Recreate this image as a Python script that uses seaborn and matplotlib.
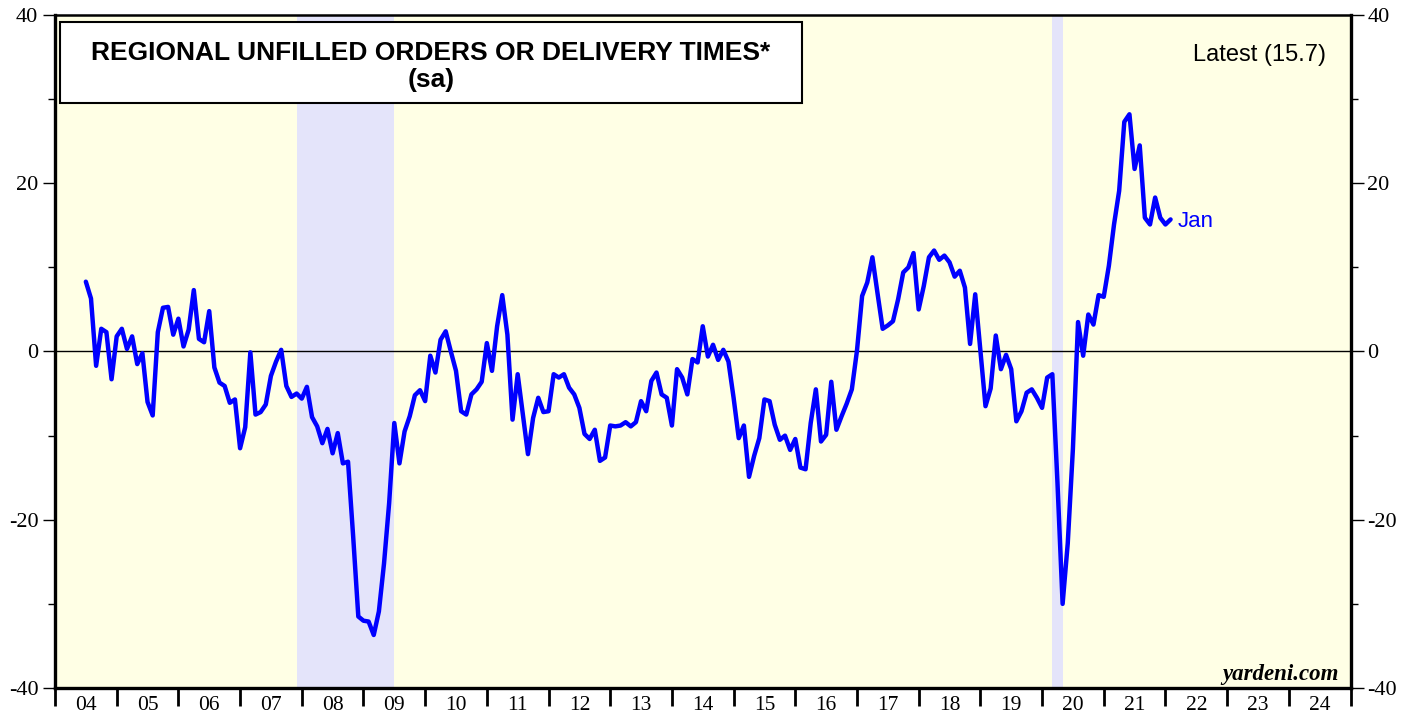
import numpy as np
import pandas as pd
import seaborn as sns
import matplotlib
matplotlib.use("Agg")
import matplotlib.pyplot as plt
from matplotlib.patches import Rectangle
from matplotlib.ticker import MultipleLocator, FixedLocator, NullFormatter

# monthly readings, Jun 2004 .. Jan 2022
vals_2004_2009 = [8.3, 6.3, -1.7, 2.7, 2.3, -3.3, 1.8, 2.7, 0.3, 1.8, -1.5, -0.2,
                  -6.0, -7.6, 2.3, 5.2, 5.3, 2.0, 3.9, 0.6, 2.6, 7.3, 1.5, 1.1,
                  4.8, -1.9, -3.7, -4.1, -6.1, -5.7, -11.5, -9.0, -0.1, -7.5, -7.2, -6.3,
                  -2.9, -1.2, 0.2, -4.1, -5.4, -5.0, -5.6, -4.2, -7.8, -8.9, -10.9, -9.2,
                  -12.1, -9.7, -13.3, -13.1, -22.0, -31.5, -32.0, -32.1, -33.7, -30.9, -25.2, -18.0,
                  -8.5, -13.3, -9.5, -7.7, -5.2, -4.6, -5.9]
vals_2010_2015 = [-0.5, -2.5, 1.4, 2.4, 0.0, -2.3, -7.1, -7.5, -5.1, -4.5, -3.6, 1.0,
                  -2.3, 3.0, 6.7, 2.0, -8.1, -2.7, -7.5, -12.2, -7.9, -5.5, -7.2, -7.1,
                  -2.7, -3.1, -2.7, -4.3, -5.1, -6.7, -9.8, -10.4, -9.3, -13.0, -12.6, -8.8,
                  -8.9, -8.8, -8.4, -8.9, -8.4, -5.9, -7.1, -3.5, -2.5, -5.1, -5.5, -8.8,
                  -2.1, -3.1, -5.1, -0.9, -1.3, 3.0, -0.6, 0.8, -1.0, 0.2, -1.2, -5.5,
                  -10.3, -8.8, -14.9, -12.4, -10.3, -5.7, -5.9, -8.7, -10.5, -10.0, -11.7, -10.4]
vals_2016_2022 = [-13.8, -14.0, -8.5, -4.5, -10.7, -9.9, -3.6, -9.3, -7.7, -6.2, -4.5, 0.1,
                  6.6, 8.2, 11.2, 6.9, 2.7, 3.1, 3.6, 6.2, 9.4, 10.0, 11.7, 5.0,
                  7.8, 11.2, 12.0, 10.9, 11.4, 10.6, 8.9, 9.6, 7.6, 0.9, 6.8, 0.2,
                  -6.5, -4.4, 1.9, -2.1, -0.4, -2.1, -8.3, -7.1, -4.9, -4.5, -5.5, -6.7,
                  -3.1, -2.7, -15.6, -30.0, -22.8, -11.6, 3.5, -0.5, 4.4, 3.2, 6.7, 6.5,
                  10.2, 15.1, 19.1, 27.3, 28.2, 21.7, 24.5, 15.9, 15.1, 18.3, 15.9, 15.1, 15.7]

recessions = [(2007.917, 2009.5), (2020.167, 2020.333)]
year_labels = ["04", "05", "06", "07", "08", "09", "10", "11", "12", "13", "14",
               "15", "16", "17", "18", "19", "20", "21", "22", "23", "24"]

vals = vals_2004_2009 + vals_2010_2015 + vals_2016_2022
dates = pd.date_range("2004-06-30", periods=len(vals), freq="ME")
df = pd.DataFrame({"t": dates.year + dates.month / 12.0, "v": vals})

sns.set_style("ticks")
plt.rcParams["font.family"] = ["Liberation Serif", "DejaVu Serif"]
plt.rcParams["axes.unicode_minus"] = False
plt.rcParams["text.color"] = "black"
plt.rcParams["xtick.color"] = "black"
plt.rcParams["ytick.color"] = "black"
plt.rcParams["axes.edgecolor"] = "black"

sans = ["Liberation Sans", "DejaVu Sans"]

fig = plt.figure(figsize=(14.16, 7.19), dpi=100)
ax = fig.add_axes([55 / 1416, 1 - 688 / 719, 1295.5 / 1416, 673 / 719])
ax.set_facecolor("#FFFFE5")

for a, b in recessions:
    ax.axvspan(a, b, color="#E4E4FA", lw=0, zorder=0)
ax.axhline(0, color="black", lw=1.0, zorder=1)

sns.lineplot(data=df, x="t", y="v", color="#0000FF", lw=3.2, ax=ax, zorder=3)

ax.set_xlim(2004, 2025)
ax.set_ylim(-40, 40)
ax.set_xlabel("")
ax.set_ylabel("")

# x: year boundary ticks, labels in the middle of each year
ax.xaxis.set_major_locator(FixedLocator(np.arange(2004, 2026)))
ax.xaxis.set_major_formatter(NullFormatter())
ax.set_xticks(np.arange(2004.5, 2025, 1.0), labels=year_labels, minor=True)
ax.tick_params(axis="x", which="major", direction="out", length=13, width=2.0)
ax.tick_params(axis="x", which="minor", length=0, pad=6, labelsize=15.5)

ax.yaxis.set_major_locator(MultipleLocator(20))
ax.yaxis.set_minor_locator(MultipleLocator(10))
ax.tick_params(axis="y", which="major", direction="out", length=9, width=1.0,
               left=True, right=True, labelleft=True, labelright=True, labelsize=16, pad=3)
ax.tick_params(axis="y", which="minor", direction="out", length=5, width=1.0,
               left=True, right=True)

for side in ["left", "right", "bottom"]:
    ax.spines[side].set_linewidth(2.4)
ax.spines["top"].set_linewidth(1.8)

# title box
ax.add_patch(Rectangle((0.0039, 0.8692), 0.5727, 0.1204, transform=ax.transAxes,
                       facecolor="white", edgecolor="black", lw=1.5, zorder=5))
ax.text(0.2903, 0.9440, "REGIONAL UNFILLED ORDERS OR DELIVERY TIMES*", transform=ax.transAxes,
        ha="center", va="center", fontsize=19, fontweight="bold", family=sans, zorder=6)
ax.text(0.2903, 0.9040, "(sa)", transform=ax.transAxes, ha="center", va="center",
        fontsize=19, fontweight="bold", family=sans, zorder=6)

ax.text(0.981, 0.9406, "Latest (15.7)", transform=ax.transAxes, ha="right", va="center",
        fontsize=17, family=sans)
ax.text(df["t"].iloc[-1] + 0.11, vals[-1], "Jan", ha="left", va="center_baseline",
        fontsize=16, color="#0000FF", family=sans)
ax.text(0.991, 0.012, "yardeni.com", transform=ax.transAxes, ha="right", va="baseline",
        fontsize=16.5, fontweight="bold", style="italic")

fig.savefig("out.png", dpi=100, facecolor="white")
